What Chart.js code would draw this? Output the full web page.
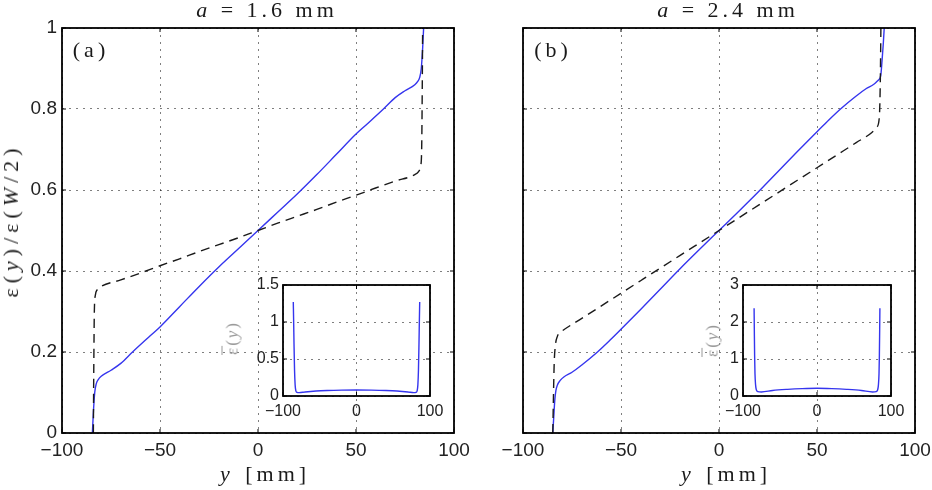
<!DOCTYPE html>
<html>
<head>
<meta charset="utf-8">
<script src="https://cdn.jsdelivr.net/npm/chart.js@4.4.1/dist/chart.umd.min.js"></script>
<style>
  body { margin: 0; background: #fff; width: 932px; height: 490px; position: relative; overflow: hidden; }
  canvas { position: absolute; }
  .tx { position: absolute; font-family: "Liberation Serif", serif; color: #1a1a1a; white-space: nowrap; line-height: 1; transform: translate(-50%, -50%); }
  .rot { transform: translate(-50%, -50%) rotate(-90deg); }
  .ttl { font-size: 22px; letter-spacing: 4px; padding-left: 4px; }
  .axl { font-size: 22px; letter-spacing: 4px; word-spacing: 2px; padding-left: 4px; }
  .ylab { font-size: 22px; letter-spacing: 5px; padding-left: 5px; }
  .pnl { font-size: 22px; letter-spacing: 4px; padding-left: 4px; }
  .ilab { font-size: 17px; letter-spacing: 2px; color: #999; }
  .ob { text-decoration: overline; }
</style>
</head>
<body>
<canvas id="mainA" width="470" height="470" style="left:0;top:0"></canvas>
<canvas id="mainB" width="470" height="470" style="left:462px;top:0"></canvas>
<canvas id="insetA" width="215" height="145" style="left:240px;top:275px"></canvas>
<canvas id="insetB" width="216" height="145" style="left:700px;top:275px"></canvas>

<div class="tx ttl" style="left:265px;top:10px"><i>a</i> = 1.6 mm</div>
<div class="tx ttl" style="left:726px;top:10px"><i>a</i> = 2.4 mm</div>
<div class="tx pnl" style="left:89px;top:50px">(a)</div>
<div class="tx pnl" style="left:551px;top:50px">(b)</div>
<div class="tx axl" style="left:263px;top:474px"><i>y</i> [mm]</div>
<div class="tx axl" style="left:724px;top:474px"><i>y</i> [mm]</div>
<div class="tx ylab rot" style="left:11px;top:223px">ε(<i>y</i>)/ε(<i>W</i>/2)</div>
<div class="tx ilab rot" style="left:232px;top:338px"><span class="ob">ε</span>(<i>y</i>)</div>
<div class="tx ilab rot" style="left:712px;top:340px"><span class="ob">ε</span>(<i>y</i>)</div>

<script>
// tick values
const mainXTicks = [-100, -50, 0, 50, 100];
const mainYTicks = [0, 0.2, 0.4, 0.6, 0.8, 1];
const insetXTicks = [-100, 0, 100];
const insetATicks = [0, 0.5, 1, 1.5];
const insetBTicks = [0, 1, 2, 3];

// panel (a), a = 1.6 mm : solid blue
const solidA_x = [-84.5, -84, -83.3, -82.5, -81.5, -80, -75, -70, -64, -55, -50, -40, -30, -20, -10, 0,
                  10, 20, 30, 40, 50, 55, 64, 70, 75, 80, 81.5, 82.5, 83.3, 84, 84.5];
const solidA_v = [0, 0.05, 0.1, 0.122, 0.132, 0.14, 0.155, 0.172, 0.2, 0.24, 0.262, 0.312, 0.362, 0.41, 0.455, 0.5,
                  0.545, 0.59, 0.638, 0.688, 0.738, 0.76, 0.8, 0.828, 0.845, 0.86, 0.868, 0.878, 0.9, 0.95, 1];
// panel (a) : dashed black
const dashA_x = [-84, -83.8, -83.5, -83, -82, -80, -70, -60, -50, -40, -30, -20, -10, 0,
                 10, 20, 30, 40, 50, 60, 70, 80, 82, 83, 83.5, 83.8, 84];
const dashA_v = [0, 0.15, 0.3, 0.34, 0.354, 0.362, 0.378, 0.395, 0.413, 0.43, 0.448, 0.465, 0.482, 0.5,
                 0.518, 0.535, 0.552, 0.57, 0.587, 0.605, 0.622, 0.638, 0.646, 0.66, 0.7, 0.85, 1];

// panel (b), a = 2.4 mm : solid blue
const solidB_x = [-84.8, -84.3, -83.8, -83.2, -82.5, -81, -79, -75, -70, -62, -55, -50, -40, -30, -20, -10, 0,
                  10, 20, 30, 40, 50, 55, 62, 70, 75, 79, 81, 82.5, 83.2, 83.8, 84.3];
const solidB_v = [0, 0.04, 0.08, 0.105, 0.118, 0.13, 0.139, 0.15, 0.168, 0.2, 0.232, 0.256, 0.305, 0.355, 0.405, 0.453, 0.5,
                  0.547, 0.595, 0.645, 0.695, 0.744, 0.768, 0.8, 0.832, 0.85, 0.861, 0.87, 0.882, 0.92, 0.96, 1];
// panel (b) : dashed black
const dashB_x = [-84.8, -84.5, -84.1, -83.5, -82.5, -81, -80, -70, -60, -50, -40, -30, -20, -10, 0,
                 10, 20, 30, 40, 50, 60, 70, 78, 80.5, 81.8, 82.3, 82.6];
const dashB_v = [0, 0.08, 0.17, 0.215, 0.238, 0.248, 0.252, 0.283, 0.314, 0.345, 0.376, 0.407, 0.438, 0.469, 0.5,
                 0.531, 0.562, 0.593, 0.624, 0.655, 0.686, 0.717, 0.742, 0.755, 0.78, 0.87, 1];

// insets
const insetA_x = [-86, -85.5, -85, -84.3, -83.5, -82.5, -81, -78, -70, -55, -40, -20, 0,
                  20, 40, 55, 70, 78, 81, 82.5, 83.5, 84.3, 85, 85.5, 86];
const insetA_v = [1.27, 1.0, 0.7, 0.35, 0.15, 0.07, 0.05, 0.045, 0.055, 0.068, 0.075, 0.08, 0.082,
                  0.08, 0.075, 0.068, 0.055, 0.045, 0.05, 0.07, 0.15, 0.35, 0.7, 1.0, 1.27];
const insetB_x = [-85, -84.7, -84.3, -83.8, -83, -82, -80, -75, -60, -40, -20, 0,
                  20, 40, 60, 75, 80, 82, 83, 83.8, 84.3, 84.7, 85];
const insetB_v = [2.37, 1.8, 1.1, 0.6, 0.3, 0.17, 0.12, 0.11, 0.15, 0.18, 0.2, 0.21,
                  0.2, 0.18, 0.15, 0.11, 0.12, 0.17, 0.3, 0.6, 1.1, 1.8, 2.37];

const BLUE = '#3535ee';
const pts = (xs, vs) => xs.map((x, i) => ({ x: x, y: vs[i] }));
const minus = v => String(v).replace('-', '\u2212');

// black frame + inward ticks on all four sides
const frame = {
    id: 'frame',
    beforeDraw(chart, args, opts) {
        if (!opts.fill) return;
        const a = chart.chartArea;
        chart.ctx.save();
        chart.ctx.fillStyle = '#fff';
        chart.ctx.fillRect(a.left, a.top, a.width, a.height);
        chart.ctx.restore();
    },
    afterDraw(chart, args, opts) {
        const { ctx, chartArea: a, scales: { x, y } } = chart;
        const L = opts.tick || 4;
        ctx.save();
        ctx.strokeStyle = '#000';
        ctx.lineWidth = 1;
        ctx.beginPath();
        x.ticks.forEach(t => {
            const p = x.getPixelForValue(t.value);
            ctx.moveTo(p, a.bottom); ctx.lineTo(p, a.bottom - L);
            ctx.moveTo(p, a.top); ctx.lineTo(p, a.top + L);
        });
        y.ticks.forEach(t => {
            const p = y.getPixelForValue(t.value);
            ctx.moveTo(a.left, p); ctx.lineTo(a.left + L, p);
            ctx.moveTo(a.right, p); ctx.lineTo(a.right - L, p);
        });
        ctx.stroke();
        ctx.lineWidth = 1.8;
        ctx.strokeRect(a.left, a.top, a.width, a.height);
        ctx.restore();
    }
};

function axis(min, max, tickList, size, isX, showLabels, fontSize, pad) {
    return {
        type: 'linear',
        min: min,
        max: max,
        afterBuildTicks: s => { s.ticks = tickList.map(v => ({ value: v })); },
        afterFit: s => {
            if (isX) { s.height = size; } else { s.width = size; }
            s.paddingLeft = 0; s.paddingRight = 0; s.paddingTop = 0; s.paddingBottom = 0;
        },
        grid: { color: 'rgba(0,0,0,0.5)', lineWidth: 1, drawTicks: false },
        border: { display: false, dash: [2, 5] },
        ticks: {
            display: showLabels,
            padding: pad,
            color: '#222',
            font: { family: '"Liberation Sans", Arial, sans-serif', size: fontSize },
            callback: v => minus(v)
        }
    };
}

function makeChart(id, datasets, scales, padding, fillBg) {
    return new Chart(document.getElementById(id), {
        type: 'line',
        data: { datasets: datasets },
        options: {
            responsive: false,
            animation: false,
            layout: { padding: padding },
            elements: { point: { radius: 0 }, line: { cubicInterpolationMode: 'monotone' } },
            plugins: { legend: { display: false }, tooltip: { enabled: false }, frame: { fill: fillBg } },
            scales: scales
        },
        plugins: [frame]
    });
}

const solidStyle = { borderColor: BLUE, borderWidth: 1.4, fill: false };
const dashStyle = { borderColor: '#1a1a1a', borderWidth: 1.4, borderDash: [9, 6], fill: false };

makeChart('mainA', [
    Object.assign({ data: pts(dashA_x, dashA_v) }, dashStyle),
    Object.assign({ data: pts(solidA_x, solidA_v) }, solidStyle)
], {
    x: axis(-100, 100, mainXTicks, 37, true, true, 19, 6),
    y: axis(0, 1, mainYTicks, 40, false, true, 19, 5)
}, { left: 22, right: 16, top: 28, bottom: 0 }, false);

makeChart('mainB', [
    Object.assign({ data: pts(dashB_x, dashB_v) }, dashStyle),
    Object.assign({ data: pts(solidB_x, solidB_v) }, solidStyle)
], {
    x: axis(-100, 100, mainXTicks, 37, true, true, 19, 6),
    y: axis(0, 1, mainYTicks, 40, false, false, 19, 5)
}, { left: 21, right: 17, top: 28, bottom: 0 }, false);

makeChart('insetA', [
    Object.assign({ data: pts(insetA_x, insetA_v) }, solidStyle)
], {
    x: axis(-100, 100, insetXTicks, 24, true, true, 16, 6),
    y: axis(0, 1.5, insetATicks, 43, false, true, 16, 4)
}, { left: 0, right: 25, top: 10, bottom: 0 }, true);

makeChart('insetB', [
    Object.assign({ data: pts(insetB_x, insetB_v) }, solidStyle)
], {
    x: axis(-100, 100, insetXTicks, 24, true, true, 16, 6),
    y: axis(0, 3, insetBTicks, 43, false, true, 16, 4)
}, { left: 0, right: 25, top: 10, bottom: 0 }, true);
</script>
</body>
</html>
